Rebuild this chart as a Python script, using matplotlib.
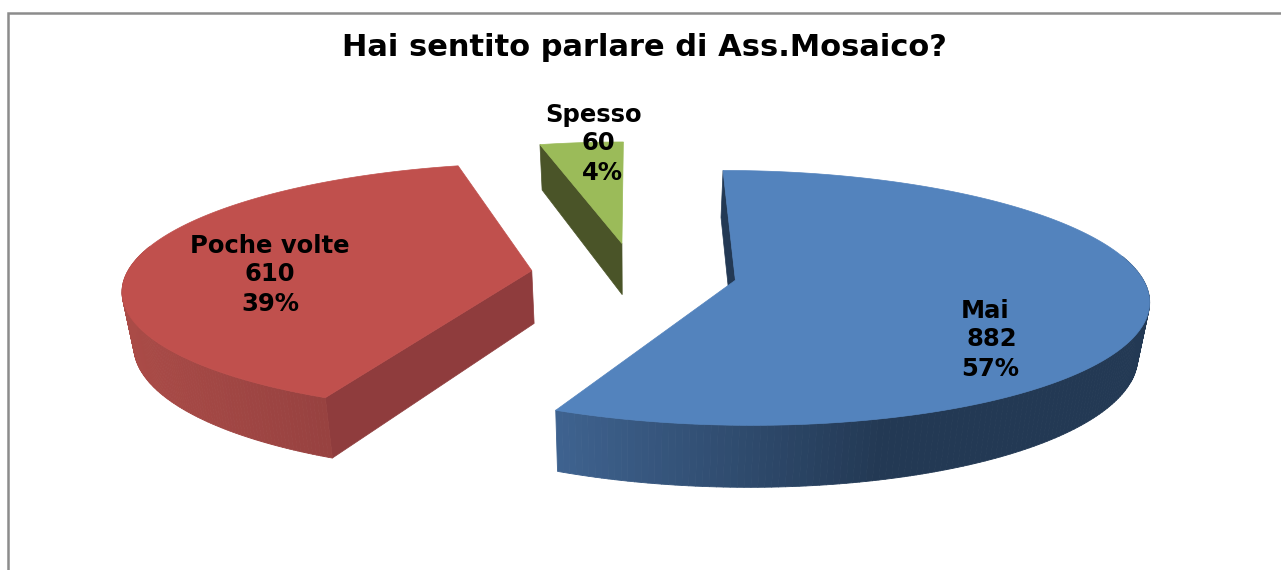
# plot.py
# Exploded 3D-look pie, drawn with a small ground-plane projection.

import numpy as np
import matplotlib
matplotlib.use("Agg")
import matplotlib.pyplot as plt
from matplotlib.collections import PolyCollection
from matplotlib.patches import Polygon

TITLE = "Hai sentito parlare di Ass.Mosaico?"
categories = ["Mai", "Poche volte", "Spesso"]
values = [882, 610, 60]

top_colors = ["#5383BD", "#C0504D", "#9BBB59"]
wall_near = ["#3F6390", "#AA4B47", "#4A5428"]   # wall colour at left end of the arc
wall_far = ["#233954", "#8C3C3C", "#4A5428"]    # wall colour at right end of the arc
radial_colors = ["#233954", "#8F3C3D", "#4A5428"]

# label line centres in pixels (x per line, y per line)
label_x = [[985, 992, 990], [270, 270, 270], [594, 598, 602]]
label_y = [[311, 339, 369], [246, 274, 304], [115, 143, 173]]

# projection settings, all in pixels
X0, Y0 = 634, 273.5
RADIUS = 405
EXPLODE = 103
TILT = 0.304
PERSP = 0.00034
DEPTH = 53
BASE_SHRINK = 0.977


def project(wx, wy, bottom=False):
    s = 1.0 / (1.0 + PERSP * wy)
    x = wx * s
    y = Y0 - TILT * wy * s
    if bottom:
        x = x * BASE_SHRINK
        y = y + DEPTH * s
    return X0 + x, y


def blend(c0, c1, t):
    a = np.array(matplotlib.colors.to_rgb(c0))
    b = np.array(matplotlib.colors.to_rgb(c1))
    return tuple(a + (b - a) * t)


def draw_slice(ax, start, sweep, top, near, far, radial):
    mid = start + sweep / 2
    ox, oy = EXPLODE * np.sin(mid), EXPLODE * np.cos(mid)
    ang = np.linspace(start, start + sweep, 240)
    wx = ox + RADIUS * np.sin(ang)
    wy = oy + RADIUS * np.cos(ang)

    tx, ty = project(wx, wy)
    bx, by = project(wx, wy, bottom=True)
    ax_, ay_ = project(ox, oy)
    abx, aby = project(ox, oy, bottom=True)

    # radial walls first, the arc wall and top face hide what is not visible
    view_y = -1.0 / PERSP
    normals = [(-np.cos(ang[0]), np.sin(ang[0])), (np.cos(ang[-1]), -np.sin(ang[-1]))]
    for i, n in zip((0, -1), normals):
        # a wall seen almost edge-on would only leave a stray line
        if n[0] * (0 - ox) + n[1] * (view_y - oy) < 30:
            continue
        ax.add_patch(Polygon([(ax_, ay_), (tx[i], ty[i]), (bx[i], by[i]), (abx, aby)],
                             closed=True, fc=radial, ec=radial, lw=0.5, zorder=2))

    quads = []
    cols = []
    xmin, xmax = tx.min(), min(tx.max(), tx.min() + 330)
    for i in range(len(ang) - 1):
        if np.cos(ang[i]) > 0.2:  # back of the rim, never seen
            continue
        quads.append([(tx[i], ty[i]), (tx[i + 1], ty[i + 1]),
                      (bx[i + 1], by[i + 1]), (bx[i], by[i])])
        t = np.clip((tx[i] - xmin) / (xmax - xmin), 0, 1)
        cols.append(blend(near, far, t))
    if quads:
        ax.add_collection(PolyCollection(quads, facecolors=cols, edgecolors=cols,
                                         linewidths=0.6, zorder=3))

    pts = [(ax_, ay_)] + list(zip(tx, ty))
    ax.add_patch(Polygon(pts, closed=True, fc=top, ec=top, lw=0.5, zorder=4))


fig = plt.figure(figsize=(12.81, 5.70), dpi=100)
ax = fig.add_axes([0, 0, 1, 1])
ax.set_xlim(0, 1281)
ax.set_ylim(570, 0)
ax.axis("off")

# chart frame, open on the right and at the bottom as in the screenshot
ax.plot([7.5, 7.5, 1281], [570, 13, 13], color="#8C8C8C", lw=1.8, zorder=1,
        solid_joinstyle="miter")

total = sum(values)
start = 0.0
for i, v in enumerate(values):
    sweep = 2 * np.pi * v / total
    draw_slice(ax, start, sweep, top_colors[i], wall_near[i], wall_far[i], radial_colors[i])
    lines = [categories[i], str(v), f"{100 * v / total:.0f}%"]
    for line, lx, ly in zip(lines, label_x[i], label_y[i]):
        ax.text(lx, ly, line, ha="center", va="center", fontsize=17.5,
                fontweight="bold", family="DejaVu Sans", color="black", zorder=6)
    start += sweep

ax.text(644, 48, TITLE, ha="center", va="center", fontsize=22,
        fontweight="bold", family="DejaVu Sans", color="black", zorder=6)

fig.savefig("out.png", dpi=100)
plt.close(fig)
